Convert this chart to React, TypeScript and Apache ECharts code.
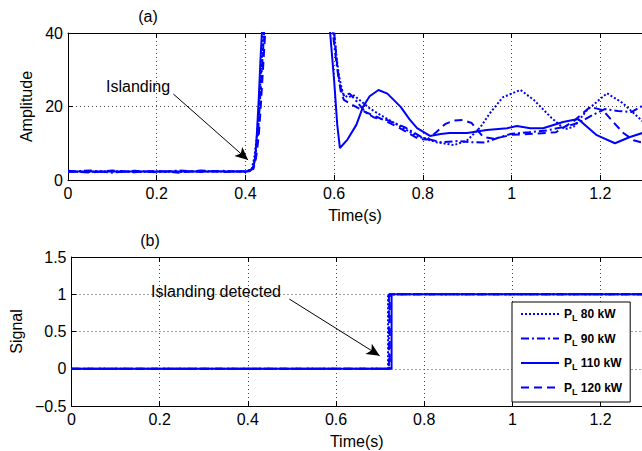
import React, { useEffect, useRef } from "react";
import * as echarts from "echarts";

const BLUE = "#0000ff";
const FONT = "'Liberation Sans', Arial, Helvetica, sans-serif";

const X_MIN = 0;
const X_MAX = 1.294;
const X_INTERVAL = 0.2;

const seriesNames = ["PL 80 kW", "PL 90 kW", "PL 110 kW", "PL 120 kW"];
const lineTypes: any[] = ["dotted", [8, 3, 2, 3], "solid", [8, 5]];

// ---- (a) Amplitude ----
const t80 = [0, 0.05, 0.1, 0.15, 0.2, 0.25, 0.3, 0.35, 0.4, 0.414, 0.42, 0.426, 0.43, 0.434, 0.438, 0.442, 0.446, 0.5, 0.55, 0.595, 0.6, 0.605, 0.61, 0.615, 0.62, 0.63, 0.645, 0.66, 0.68, 0.7, 0.75, 0.79, 0.83, 0.87, 0.9, 0.93, 0.95, 0.98, 1.02, 1.05, 1.09, 1.12, 1.14, 1.17, 1.215, 1.25, 1.275, 1.3];
const y80 = [2.3, 2.2, 2.4, 2.2, 2.3, 2.2, 2.4, 2.3, 2.3, 3, 6, 12, 19, 27, 35, 44, 55, 70, 70, 50, 40, 34, 29, 26, 23.5, 22.5, 23, 21.5, 19.5, 18, 14.5, 11.8, 10.3, 9.5, 10.8, 14.4, 18, 22.5, 24.5, 21.8, 16.9, 13.8, 14.5, 19, 23.6, 21, 18.2, 15.5];

const t90 = [0, 0.05, 0.1, 0.15, 0.2, 0.25, 0.3, 0.35, 0.4, 0.416, 0.422, 0.428, 0.432, 0.436, 0.44, 0.444, 0.45, 0.5, 0.55, 0.592, 0.597, 0.605, 0.612, 0.62, 0.635, 0.65, 0.67, 0.69, 0.72, 0.76, 0.8, 0.84, 0.88, 0.91, 0.94, 0.97, 1.0, 1.04, 1.08, 1.12, 1.15, 1.18, 1.21, 1.24, 1.27, 1.3];
const y90 = [2.2, 2.6, 2.0, 2.5, 2.1, 2.6, 2.2, 2.5, 2.2, 3, 6, 12, 20, 28, 36, 44, 55, 70, 70, 50, 40, 32, 26, 23, 23.5, 21.5, 18.5, 17, 16.3, 14.3, 11.5, 10.3, 10.6, 10.3, 10.2, 11.5, 12.6, 13, 13.5, 14.5, 15.5, 17.5, 19.3, 18.8, 18.5, 20.5];

const t110 = [0, 0.2, 0.4, 0.41, 0.418, 0.422, 0.426, 0.43, 0.434, 0.438, 0.445, 0.5, 0.55, 0.585, 0.591, 0.6, 0.607, 0.613, 0.63, 0.65, 0.665, 0.68, 0.7, 0.72, 0.75, 0.77, 0.787, 0.816, 0.84, 0.86, 0.9, 0.944, 0.99, 1.012, 1.042, 1.071, 1.116, 1.15, 1.17, 1.192, 1.233, 1.267, 1.3];
const y110 = [2.3, 2.3, 2.3, 2.4, 3.5, 6, 13, 22, 33, 42, 55, 70, 70, 50, 40, 27, 15, 8.7, 11, 15, 19.9, 22.8, 24.5, 23.5, 19.9, 16.5, 14.1, 12, 12.5, 12.8, 12.8, 13.6, 14.1, 14.7, 14.1, 14.1, 15.8, 16.6, 14.5, 12.2, 10, 11.7, 13];

const t120 = [0, 0.05, 0.1, 0.15, 0.2, 0.25, 0.3, 0.35, 0.4, 0.418, 0.424, 0.43, 0.434, 0.438, 0.442, 0.446, 0.452, 0.5, 0.55, 0.595, 0.6, 0.607, 0.615, 0.622, 0.64, 0.67, 0.7, 0.75, 0.79, 0.81, 0.83, 0.85, 0.87, 0.89, 0.91, 0.936, 0.96, 1.0, 1.05, 1.1, 1.14, 1.177, 1.206, 1.229, 1.252, 1.275, 1.3];
const y120 = [2.5, 2.0, 2.6, 2.1, 2.5, 2.0, 2.6, 2.2, 2.4, 3, 6, 12, 19, 27, 35, 43, 55, 70, 70, 50, 40, 31, 24, 21.8, 20.5, 18.5, 17, 14, 11.2, 11, 13, 15.2, 16.2, 16.3, 15.5, 11.7, 11.2, 12.3, 12.6, 13, 16, 19.9, 19, 15.8, 12.8, 10.8, 10];

const ampT = [t80, t90, t110, t120];
const ampY = [y80, y90, y110, y120];
const ampTicks = { min: 0, max: 40, interval: 20 };

// ---- (b) Signal ----
const stepTimes = [0.718, 0.72, 0.726, 0.722];
const sigLevels = [0, 0, 1, 1];
const sigEndT = 1.3;
const sigTicks = { min: -0.5, max: 1.5, interval: 0.5 };

// annotations (data coordinates)
const arrowA = { from: [0.2375, 23.4], to: [0.406, 5.44] };
const arrowB = { from: [0.494, 0.936], to: [0.699, 0.175] };

function zip(t: number[], y: number[]) {
  return t.map((v, i) => [v, y[i]]);
}

function stepData(ts: number) {
  return [
    [0, sigLevels[0]],
    [ts, sigLevels[1]],
    [ts, sigLevels[2]],
    [sigEndT, sigLevels[3]],
  ];
}

const axisLineStyle = { lineStyle: { color: "#000", width: 1 } };
const splitDotted = { show: true, lineStyle: { color: "#444", type: [1, 3] as any, width: 1 } };

function xAxisPair(gridIndex: number) {
  const base = {
    type: "value",
    gridIndex,
    min: X_MIN,
    max: X_MAX,
    interval: X_INTERVAL,
    axisLine: { show: true, onZero: false, ...axisLineStyle },
    axisTick: { show: true, inside: true, length: 5, lineStyle: { color: "#000" } },
  };
  return [
    {
      ...base,
      position: "bottom",
      name: "Time(s)",
      nameLocation: "middle",
      nameGap: 27,
      nameTextStyle: { fontSize: 16, color: "#000", fontFamily: FONT },
      axisLabel: {
        fontSize: 16,
        color: "#000",
        fontFamily: FONT,
        margin: 5,
        showMaxLabel: false,
        formatter: (v: number) => String(Math.round(v * 10) / 10),
      },
      splitLine: splitDotted,
    },
    {
      ...base,
      position: "top",
      axisLabel: { show: false },
      splitLine: { show: false },
    },
  ];
}

function arrowMarkLine(a: { from: number[]; to: number[] }) {
  return {
    silent: true,
    animation: false,
    symbolSize: [9, 13],
    label: { show: false },
    lineStyle: { color: "#000", width: 1, type: "solid" },
    data: [
      [
        { coord: a.from, symbol: "none" },
        { coord: a.to, symbol: "arrow" },
      ],
    ],
  };
}

function App() {
  const ref = useRef<HTMLDivElement>(null);

  useEffect(() => {
    if (!ref.current) return;
    const chart = echarts.init(ref.current, undefined, { renderer: "svg" });

    const ampSeries = seriesNames.map((name, i) => ({
      name,
      type: "line",
      xAxisIndex: 0,
      yAxisIndex: 0,
      data: zip(ampT[i], ampY[i]),
      symbol: "none",
      clip: true,
      lineStyle: { color: BLUE, width: 2, type: lineTypes[i] },
      itemStyle: { color: BLUE },
      z: i === 2 ? 3 : 2,
      ...(i === 2 ? { markLine: arrowMarkLine(arrowA) } : {}),
    }));

    const sigSeries = seriesNames.map((name, i) => ({
      name,
      type: "line",
      xAxisIndex: 2,
      yAxisIndex: 1,
      data: stepData(stepTimes[i]),
      symbol: "none",
      clip: true,
      lineStyle: { color: BLUE, width: 2, type: lineTypes[i] },
      itemStyle: { color: BLUE },
      z: i === 2 ? 3 : 2,
      ...(i === 2 ? { markLine: arrowMarkLine(arrowB) } : {}),
    }));

    const yBase = (gridIndex: number, ticks: any, name: string, nameGap: number) => ({
      type: "value",
      gridIndex,
      min: ticks.min,
      max: ticks.max,
      interval: ticks.interval,
      name,
      nameLocation: "middle",
      nameGap,
      nameTextStyle: { fontSize: 16, color: "#000", fontFamily: FONT },
      axisLine: { show: true, onZero: false, ...axisLineStyle },
      axisTick: { show: true, inside: true, length: 5, lineStyle: { color: "#000" } },
      axisLabel: {
        fontSize: 16,
        color: "#000",
        fontFamily: FONT,
        margin: 5,
        formatter: (v: number) => (v < 0 ? "\u2212" + String(-v) : String(v)),
      },
      splitLine: splitDotted,
    });

    chart.setOption({
      animation: false,
      textStyle: { fontFamily: FONT },
      grid: [
        { left: 68, top: 33, width: 574, height: 147, containLabel: false },
        { left: 68, top: 257, width: 574, height: 149, containLabel: false },
      ],
      xAxis: [...xAxisPair(0), ...xAxisPair(1)],
      yAxis: [yBase(0, ampTicks, "Amplitude", 33), yBase(1, sigTicks, "Signal", 45)],
      legend: {
        data: seriesNames,
        orient: "vertical",
        left: 512,
        top: 302,
        padding: [6, 8, 6, 8],
        itemGap: 10,
        itemWidth: 38,
        itemHeight: 14,
        backgroundColor: "#fff",
        borderColor: "#000",
        borderWidth: 1,
        borderRadius: 0,
        selectedMode: false,
        itemStyle: { opacity: 0 },
        textStyle: {
          fontSize: 12,
          fontWeight: "bold",
          color: "#000",
          fontFamily: FONT,
          rich: {
            p: { fontSize: 12, fontWeight: "bold", color: "#000", fontFamily: FONT },
            s: { fontSize: 9, fontWeight: "bold", color: "#000", fontFamily: FONT, padding: [8, 0, 0, 0] },
            r: { fontSize: 12, fontWeight: "bold", color: "#000", fontFamily: FONT },
          },
        },
        formatter: (name: string) => "{p|P}{s|L}{r|" + name.slice(2) + "}",
      },
      series: [...ampSeries, ...sigSeries],
      graphic: [
        {
          type: "text",
          x: 148,
          y: 16,
          style: { text: "(a)", fontSize: 16, fontFamily: FONT, fill: "#000", textAlign: "center", textVerticalAlign: "middle" },
        },
        {
          type: "text",
          x: 150,
          y: 240,
          style: { text: "(b)", fontSize: 16, fontFamily: FONT, fill: "#000", textAlign: "center", textVerticalAlign: "middle" },
        },
        {
          type: "text",
          x: 138,
          y: 86,
          z: 10,
          style: { text: "Islanding", fontSize: 16, fontFamily: FONT, fill: "#000", textAlign: "center", textVerticalAlign: "middle" },
        },
        {
          type: "text",
          x: 216,
          y: 291,
          z: 10,
          style: { text: "Islanding detected", fontSize: 16, fontFamily: FONT, fill: "#000", textAlign: "center", textVerticalAlign: "middle" },
        },
      ],
    });

    return () => chart.dispose();
  }, []);

  return (
    <div
      ref={ref}
      style={{ position: "fixed", left: 0, top: 0, width: 642, height: 451, background: "#fff" }}
    />
  );
}

export default App;
